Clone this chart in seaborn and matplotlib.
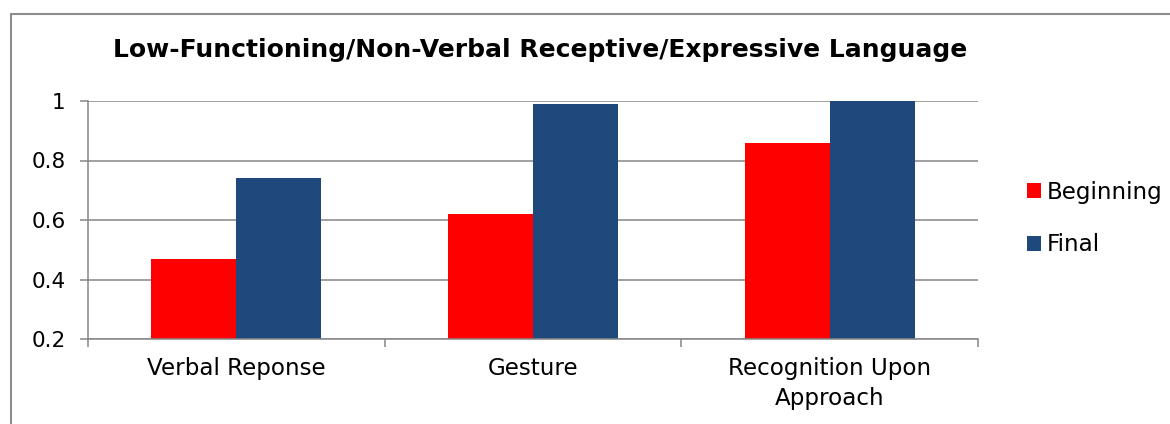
import matplotlib
matplotlib.use("Agg")
import matplotlib.pyplot as plt
from matplotlib.patches import Patch
from matplotlib.lines import Line2D
import pandas as pd
import seaborn as sns

categories = ["Verbal Reponse", "Gesture", "Recognition Upon\nApproach"]
series_names = ["Beginning", "Final"]
beginning = [0.47, 0.62, 0.86]
final = [0.74, 0.99, 1.00]
y_ticks = [0.2, 0.4, 0.6, 0.8, 1.0]
y_tick_labels = ["0.2", "0.4", "0.6", "0.8", "1"]
colors = ["#FF0000", "#1F497D"]

df = pd.DataFrame({
    "category": categories * 2,
    "series": [series_names[0]] * 3 + [series_names[1]] * 3,
    "value": beginning + final,
})

sns.set_style("white")
plt.rcParams["font.family"] = ["DejaVu Sans"]
plt.rcParams["text.color"] = "black"
plt.rcParams["xtick.color"] = "black"
plt.rcParams["ytick.color"] = "black"

fig = plt.figure(figsize=(11.7, 4.24), dpi=100)
ax = fig.add_axes([88 / 1170, 1 - 339 / 424, (978 - 88) / 1170, (339 - 101) / 424])

sns.barplot(data=df, x="category", y="value", hue="series", order=categories,
            hue_order=series_names, palette=colors, width=0.572, saturation=1,
            ax=ax, legend=False, linewidth=0)

ax.set_ylim(0.2, 1.0)
ax.set_xlim(-0.5, 2.5)
ax.set_yticks(y_ticks)
ax.set_yticklabels(y_tick_labels, fontsize=15.5, color="black")
ax.set_xlabel("")
ax.set_ylabel("")
ax.grid(axis="y", color="#868686", linewidth=1.1)
ax.set_axisbelow(True)
for side in ["top", "right"]:
    ax.spines[side].set_visible(False)
for side in ["left", "bottom"]:
    ax.spines[side].set_color("#868686")
    ax.spines[side].set_linewidth(1.1)

ax.tick_params(axis="y", length=6, color="#868686", labelcolor="black", width=1.1, pad=10,
               direction="out", left=True)
ax.set_xticks([0, 1, 2])
ax.set_xticklabels(categories, fontsize=16.6, linespacing=1.4, color="black")
ax.tick_params(axis="x", which="major", length=0, pad=13, labelcolor="black")
ax.set_xticks([-0.5, 0.5, 1.5, 2.5], minor=True)
ax.tick_params(axis="x", which="minor", length=6, color="#868686", width=1.1, direction="out", bottom=True)

fig.text(540 / 1170, 1 - 50 / 424, "Low-Functioning/Non-Verbal Receptive/Expressive Language",
         ha="center", va="center", fontsize=18, fontweight="bold", color="black")

handles = [Patch(facecolor=c, edgecolor="none") for c in colors]
leg = fig.legend(handles, series_names, loc="center left", bbox_to_anchor=(1027 / 1170, 1 - 218.5 / 424),
                 frameon=False, fontsize=16.6, handlelength=0.6, handleheight=0.6,
                 handletextpad=0.25, labelspacing=1.3, borderaxespad=0, borderpad=0)
for t in leg.get_texts():
    t.set_color("black")

# outer frame lines along the top and left edges
fig.add_artist(Line2D([11 / 1170, 11 / 1170], [0, 1 - 14 / 424], transform=fig.transFigure,
                      color="#8C8C8C", linewidth=1.5))
fig.add_artist(Line2D([11 / 1170, 1.01], [1 - 14 / 424, 1 - 14 / 424], transform=fig.transFigure,
                      color="#8C8C8C", linewidth=1.5))

fig.savefig("out.png", dpi=100, facecolor="white")
